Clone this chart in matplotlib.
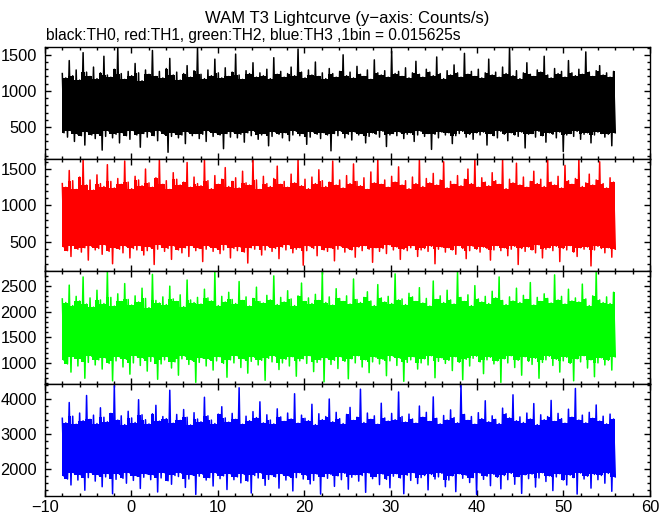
import numpy as np
import matplotlib
matplotlib.use("Agg")
import matplotlib.pyplot as plt
from matplotlib.ticker import MultipleLocator

# time span of the light curve (s), 1bin = 0.015625 s
t_start, t_end = -8.0, 56.0

# upper / lower envelope of each curve (counts/s)
th0_hi = [1240, 1180, 1420, 1210, 1290, 1150, 1530, 1260, 1200, 1330, 1170, 1250, 1480, 1220, 1190, 1300, 1600, 1240, 1160, 1270,
          1210, 1380, 1250, 1140, 1290, 1230, 1560, 1200, 1270, 1180, 1310, 1450, 1220, 1260, 1150, 1240, 1350, 1190, 1280, 1600,
          1230, 1170, 1290, 1210, 1440, 1250, 1180, 1320, 1200, 1260, 1510, 1220, 1160, 1280, 1240, 1390, 1190, 1250, 1210, 1300,
          1170, 1460, 1230, 1270, 1190, 1240, 1330, 1210, 1580, 1260, 1180, 1290, 1220, 1400, 1200, 1250, 1170, 1310, 1240, 1190,
          1270, 1500, 1210, 1260, 1180, 1340, 1230, 1200, 1290, 1160, 1430, 1250, 1220, 1280, 1190, 1550, 1240, 1270, 1200, 1320,
          1180, 1250, 1410, 1230, 1190, 1300, 1260, 1210, 1470, 1240, 1170, 1280, 1220, 1360, 1250, 1190, 1520, 1230, 1270, 1200,
          1300, 1180, 1250, 1440, 1220, 1260, 1190, 1330, 1240, 1600, 1210, 1280, 1170, 1250, 1390, 1230, 1200, 1290, 1260, 1480,
          1220, 1180, 1310, 1240, 1270, 1190, 1420, 1250, 1210, 1300, 1230, 1540, 1260, 1200, 1280, 1350, 1220, 1250, 1190, 1270]
th0_lo = [420, 360, 450, 300, 400, 380, 250, 430, 390, 340, 410, 180, 370, 440, 350, 400, 280, 420, 380, 330,
          450, 390, 220, 410, 360, 430, 380, 310, 440, 400, 150, 370, 420, 350, 390, 270, 430, 380, 410, 340,
          400, 300, 440, 370, 420, 390, 200, 410, 360, 430, 350, 400, 290, 420, 380, 440, 330, 390, 410, 240,
          370, 430, 400, 350, 420, 310, 390, 440, 380, 410, 260, 360, 430, 400, 340, 420, 390, 170, 410, 380,
          440, 350, 400, 320, 430, 390, 410, 280, 370, 420, 400, 360, 440, 230, 390, 410, 380, 430, 340, 400,
          420, 300, 390, 440, 370, 410, 190, 400, 350, 430, 390, 420, 270, 380, 410, 440, 360, 400, 330, 420,
          390, 430, 250, 410, 380, 350, 440, 400, 310, 420, 390, 370, 430, 210, 400, 410, 360, 440, 380, 290,
          420, 400, 350, 430, 160, 390, 410, 370, 440, 330, 400, 420, 280, 390, 430, 410, 360, 400, 240, 420]

th1_hi = [1300, 1250, 1480, 1340, 1220, 1390, 1630, 1280, 1350, 1210, 1420, 1300, 1260, 1560, 1330, 1240, 1370, 1290, 1610, 1320,
          1230, 1400, 1350, 1270, 1500, 1310, 1250, 1380, 1630, 1290, 1340, 1220, 1450, 1360, 1280, 1320, 1590, 1250, 1390, 1300,
          1270, 1630, 1340, 1230, 1410, 1290, 1360, 1520, 1260, 1330, 1380, 1240, 1470, 1310, 1280, 1630, 1350, 1220, 1400, 1300,
          1260, 1370, 1540, 1290, 1330, 1250, 1430, 1310, 1630, 1270, 1360, 1230, 1390, 1300, 1490, 1340, 1260, 1320, 1610, 1280,
          1350, 1240, 1410, 1300, 1570, 1330, 1270, 1380, 1220, 1460, 1310, 1630, 1290, 1350, 1250, 1400, 1320, 1530, 1280, 1340,
          1230, 1390, 1300, 1630, 1260, 1370, 1310, 1440, 1280, 1350, 1600, 1240, 1330, 1290, 1410, 1270, 1360, 1500, 1300, 1630,
          1250, 1380, 1320, 1270, 1450, 1340, 1290, 1630, 1230, 1360, 1310, 1580, 1280, 1390, 1250, 1330, 1470, 1300, 1360, 1260,
          1630, 1320, 1280, 1400, 1240, 1550, 1340, 1290, 1370, 1630, 1260, 1310, 1430, 1280, 1350, 1600, 1300, 1240, 1380, 1320]
th1_lo = [430, 380, 300, 450, 400, 360, 420, 250, 440, 390, 410, 330, 460, 370, 200, 420, 400, 350, 440, 280,
          410, 390, 450, 320, 380, 430, 190, 400, 460, 370, 410, 260, 440, 390, 350, 420, 300, 450, 380, 410,
          230, 400, 440, 370, 420, 340, 390, 460, 280, 410, 380, 430, 360, 210, 420, 400, 450, 320, 390, 440,
          370, 410, 270, 430, 390, 460, 350, 400, 420, 180, 380, 440, 410, 310, 450, 390, 370, 420, 240, 400,
          440, 360, 410, 390, 290, 430, 380, 450, 400, 220, 420, 370, 410, 340, 460, 390, 430, 260, 400, 380,
          420, 450, 300, 390, 410, 370, 440, 200, 400, 430, 360, 420, 390, 330, 450, 410, 270, 380, 440, 400,
          360, 430, 410, 250, 390, 450, 380, 420, 310, 400, 440, 190, 410, 370, 430, 390, 350, 460, 280, 400,
          420, 380, 440, 230, 410, 390, 450, 360, 300, 420, 400, 430, 170, 390, 440, 410, 350, 420, 290, 400]

th2_hi = [2250, 2180, 2520, 2120, 2300, 2210, 2680, 2150, 2270, 2090, 2420, 2230, 2160, 2780, 2280, 2110, 2350, 2200, 2550, 2240,
          2130, 2310, 2190, 2460, 2260, 2080, 2730, 2220, 2170, 2290, 2140, 2500, 2250, 2200, 2330, 2100, 2620, 2230, 2180, 2280,
          2150, 2440, 2270, 2210, 2780, 2120, 2300, 2190, 2380, 2240, 2160, 2590, 2220, 2290, 2110, 2260, 2480, 2200, 2170, 2320,
          2230, 2700, 2140, 2280, 2190, 2410, 2250, 2120, 2310, 2560, 2200, 2270, 2160, 2340, 2220, 2780, 2180, 2290, 2130, 2450,
          2260, 2200, 2310, 2150, 2640, 2240, 2180, 2280, 2390, 2210, 2120, 2530, 2270, 2190, 2300, 2160, 2740, 2230, 2250, 2140,
          2360, 2290, 2200, 2470, 2170, 2260, 2110, 2600, 2240, 2310, 2180, 2420, 2230, 2150, 2780, 2280, 2200, 2330, 2120, 2510,
          2250, 2190, 2300, 2160, 2400, 2270, 2680, 2220, 2140, 2290, 2210, 2460, 2180, 2320, 2240, 2570, 2130, 2280, 2200, 2350,
          2260, 2170, 2720, 2230, 2300, 2150, 2440, 2210, 2270, 2190, 2540, 2250, 2120, 2310, 2780, 2230, 2180, 2290, 2160, 2380]
th2_lo = [1050, 980, 820, 1120, 940, 1080, 700, 1010, 1130, 960, 1060, 880, 1100, 990, 650, 1040, 1120, 920, 1070, 780,
          1000, 1140, 950, 1090, 840, 1030, 1110, 680, 980, 1060, 1120, 900, 1020, 760, 1080, 1130, 970, 1050, 620, 1010,
          1100, 940, 1070, 860, 1040, 1120, 990, 720, 1060, 1000, 1140, 910, 1080, 800, 1030, 1110, 960, 1050, 660, 1090,
          1020, 1130, 870, 1000, 1070, 940, 1120, 740, 1040, 1080, 990, 1140, 830, 1010, 1060, 630, 1100, 970, 1050, 890,
          1120, 1030, 690, 1080, 1000, 1140, 920, 1060, 810, 1020, 1110, 980, 1070, 750, 1040, 1130, 950, 1090, 640, 1010,
          1060, 1120, 880, 1000, 1080, 960, 1140, 710, 1030, 1100, 990, 1050, 850, 1120, 1010, 670, 1070, 940, 1090, 1130,
          1020, 790, 1060, 1110, 980, 1040, 620, 1080, 1000, 1140, 910, 1050, 760, 1120, 1030, 970, 1090, 700, 1010, 1060,
          1130, 950, 1070, 820, 1040, 1110, 990, 650, 1080, 1020, 1140, 900, 1060, 730, 1000, 1100, 960, 1050, 860, 1120]

th3_hi = [3450, 3320, 3900, 3510, 3280, 3600, 3380, 4100, 3420, 3540, 3300, 3750, 3480, 3350, 3590, 4380, 3400, 3520, 3270, 3650,
          3460, 3330, 3980, 3550, 3410, 3290, 3580, 3820, 3370, 3500, 3440, 4250, 3310, 3560, 3390, 3700, 3480, 3260, 3610, 3430,
          3350, 4050, 3520, 3400, 3300, 3570, 3780, 3460, 3340, 3590, 3420, 4320, 3280, 3510, 3380, 3640, 3470, 3920, 3320, 3550,
          3400, 3290, 3720, 3490, 3360, 3600, 3430, 4150, 3310, 3540, 3450, 3380, 3850, 3270, 3580, 3410, 3500, 4000, 3350, 3620,
          3440, 3300, 3560, 3760, 3390, 3480, 4280, 3330, 3600, 3420, 3520, 3280, 3880, 3460, 3370, 3590, 3410, 4200, 3500, 3340,
          3570, 3430, 3310, 3800, 3480, 3620, 3360, 4060, 3450, 3290, 3530, 3400, 3690, 3470, 3320, 4400, 3560, 3390, 3500, 3280,
          3610, 3440, 3950, 3350, 3520, 3420, 3300, 3740, 3580, 3460, 4120, 3380, 3490, 3330, 3600, 3430, 3870, 3270, 3550, 3410,
          3500, 3960, 3360, 3590, 3440, 3310, 3710, 3480, 4300, 3400, 3540, 3320, 3620, 3450, 3830, 3370, 3510, 3290, 3570, 3430]
th3_lo = [1800, 1720, 1550, 1880, 1690, 1820, 1400, 1760, 1900, 1660, 1840, 1500, 1780, 1870, 1300, 1710, 1850, 1740, 1600, 1890,
          1680, 1810, 1450, 1770, 1860, 1700, 1830, 1350, 1750, 1900, 1670, 1570, 1820, 1790, 1880, 1480, 1720, 1840, 1280, 1800,
          1860, 1690, 1760, 1520, 1890, 1730, 1810, 1420, 1870, 1700, 1780, 1610, 1850, 1660, 1320, 1820, 1750, 1890, 1540, 1710,
          1840, 1780, 1460, 1870, 1690, 1800, 1380, 1760, 1900, 1720, 1830, 1580, 1680, 1860, 1290, 1790, 1740, 1850, 1510, 1810,
          1700, 1880, 1430, 1770, 1840, 1660, 1820, 1340, 1890, 1730, 1790, 1560, 1860, 1710, 1470, 1800, 1870, 1750, 1300, 1830,
          1680, 1900, 1590, 1760, 1820, 1410, 1850, 1720, 1780, 1880, 1500, 1690, 1810, 1360, 1870, 1740, 1830, 1620, 1760, 1280,
          1890, 1710, 1800, 1530, 1850, 1770, 1440, 1820, 1700, 1880, 1570, 1790, 1310, 1840, 1730, 1860, 1490, 1750, 1900, 1650,
          1810, 1390, 1780, 1870, 1690, 1550, 1830, 1760, 1290, 1890, 1720, 1800, 1460, 1850, 1700, 1820, 1600, 1880, 1370, 1780]

curves = [(th0_hi, th0_lo), (th1_hi, th1_lo), (th2_hi, th2_lo), (th3_hi, th3_lo)]
colors = ['#000000', '#ff0000', '#00ff00', '#0000ff']
ylims = [(55, 1610), (95, 1636), (594, 2788), (1237, 4437)]
major = [500, 500, 500, 1000]
minor = [100, 100, 100, 200]

plt.rcParams['font.family'] = ['Liberation Sans', 'DejaVu Sans']
plt.rcParams['font.size'] = 11.8

fig, axes = plt.subplots(4, 1, figsize=(6.72, 5.15), dpi=100, sharex=True)
fig.subplots_adjust(left=0.067, right=0.967, bottom=0.037, top=0.909, hspace=0)

for ax, (hi, lo), c, yl, mj, mn in zip(axes, curves, colors, ylims, major, minor):
    n = min(len(hi), len(lo))
    hi = np.asarray(hi[:n], float)
    lo = np.asarray(lo[:n], float)
    t = np.linspace(t_start, t_end, n)
    # solid core: what two neighbouring bins both reach
    hp = np.append(hi, hi[-1])
    lp = np.append(lo, lo[-1])
    core_hi = np.minimum(hp[:-1], hp[1:])
    core_lo = np.maximum(lp[:-1], lp[1:])
    ax.fill_between(t, core_lo, core_hi, step='mid', color=c, lw=0)
    # thin spikes up and down to each bin's envelope
    tz = np.linspace(t_start, t_end, 2 * n)
    y = np.empty(2 * n)
    y[0::2] = hi
    y[1::2] = lo
    ax.plot(tz, y, color=c, lw=1.1)
    ax.set_xlim(-10, 60)
    ax.set_ylim(*yl)
    ax.yaxis.set_major_locator(MultipleLocator(mj))
    ax.yaxis.set_minor_locator(MultipleLocator(mn))
    ax.xaxis.set_major_locator(MultipleLocator(10))
    ax.xaxis.set_minor_locator(MultipleLocator(2))
    ax.tick_params(which='both', direction='in', top=True, right=True, width=1)
    ax.tick_params(which='major', length=4.5, pad=6)
    ax.tick_params(which='minor', length=2.2)
    for s in ax.spines.values():
        s.set_linewidth(1)

axes[-1].tick_params(axis='x', pad=3)

fig.text(0.517, 0.965, 'WAM T3 Lightcurve (y\u2212axis: Counts/s)', ha='center', va='center', fontsize=12)
fig.text(0.069, 0.932, 'black:TH0, red:TH1, green:TH2, blue:TH3 ,1bin = 0.015625s', ha='left', va='center',
         fontsize=11.2)

fig.savefig('out.png', dpi=100)
